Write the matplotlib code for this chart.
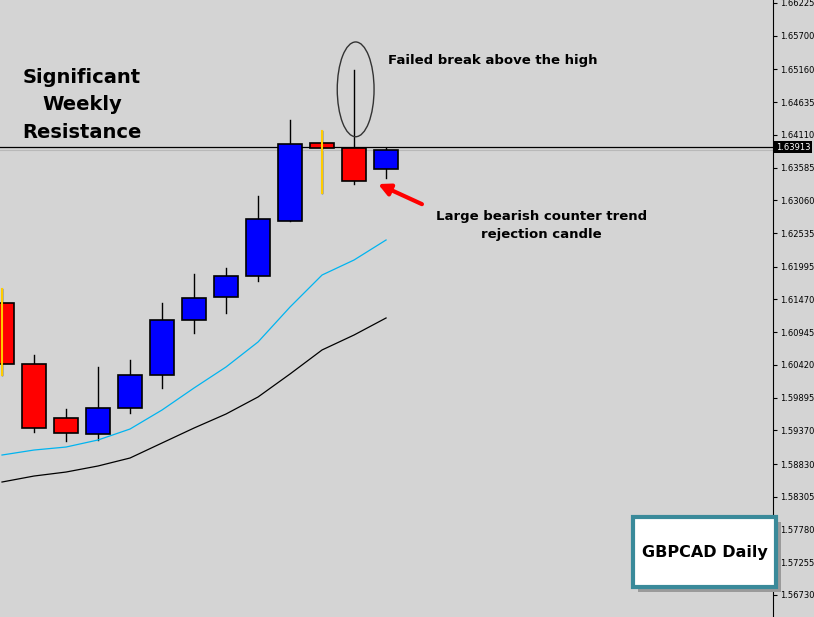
import matplotlib.pyplot as plt
from matplotlib.patches import Rectangle, Ellipse, FancyBboxPatch

# Daily GBPCAD candles (open, high, low, close)
opens = [1.61413, 1.60435, 1.59569, 1.59312, 1.59729, 1.60258, 1.61141, 1.61510, 1.61846, 1.62729, 1.63980, 1.63899, 1.63563]
highs = [1.61638, 1.60579, 1.59713, 1.60387, 1.60499, 1.61413, 1.61878, 1.61975, 1.63129, 1.64348, 1.64172, 1.65150, 1.63899]
lows = [1.60258, 1.59344, 1.59200, 1.59216, 1.59649, 1.60050, 1.60932, 1.61253, 1.61766, 1.62729, 1.63178, 1.63322, 1.63420]
closes = [1.60435, 1.59408, 1.59328, 1.59729, 1.60258, 1.61141, 1.61494, 1.61846, 1.62761, 1.63963, 1.63899, 1.63370, 1.63867]
yellow_wick = [True, False, False, False, False, False, False, False, False, False, True, False, False]
ma_fast = [1.58975, 1.59055, 1.59103, 1.59216, 1.59392, 1.59697, 1.60050, 1.60387, 1.60788, 1.61349, 1.61862, 1.62103, 1.62424]
ma_slow = [1.58542, 1.58638, 1.58702, 1.58799, 1.58927, 1.59168, 1.59408, 1.59633, 1.59906, 1.60275, 1.60660, 1.60900, 1.61173]
price_ticks = [1.66225, 1.65700, 1.65160, 1.64635, 1.64110, 1.63585, 1.63060, 1.62535, 1.61995,
               1.61470, 1.60945, 1.60420, 1.59895, 1.59370, 1.58830, 1.58305, 1.57780, 1.57255, 1.56730]
resistance = 1.63913

bg = "#d4d4d4"
fig = plt.figure(figsize=(8.14, 6.17), dpi=100, facecolor=bg)
ax = fig.add_axes([0, 0, 773 / 814, 1], facecolor=bg)
ax.set_xlim(-0.0625, 24.09)
ax.set_ylim(1.56377, 1.66273)

for i in range(len(opens)):
    o, h, l, c = opens[i], highs[i], lows[i], closes[i]
    ax.plot([i, i], [l, h], color="black", lw=1, zorder=2)
    col = "blue" if c >= o else "red"
    ax.add_patch(Rectangle((i - 0.37, min(o, c)), 0.74, max(abs(c - o), 0.00005),
                           facecolor=col, edgecolor="black", lw=1.2, zorder=3))
    if yellow_wick[i]:
        ax.plot([i, i], [l, h], color="#ffcc00", lw=1.5, zorder=4)

xs = list(range(len(ma_fast)))
ax.plot(xs, ma_fast, color="#00b4f0", lw=0.9)
ax.plot(xs, ma_slow, color="black", lw=0.9)

ax.axhline(resistance, color="black", lw=0.9)
ax.axhline(resistance - 0.0004, color="#b8b8b8", lw=0.8)

ax.add_patch(Ellipse((11.05, 1.6484), 1.15, 0.0152, fill=False, edgecolor="#333333", lw=1, zorder=5))
ax.annotate("", xy=(11.67, 1.6334), xytext=(13.2, 1.6298),
            arrowprops=dict(arrowstyle="-|>,head_length=0.7,head_width=0.35", color="red", lw=3))

ax.text(2.5, 1.6459, "Significant\nWeekly\nResistance", ha="center", va="center",
        fontsize=14, fontweight="bold", linespacing=1.55)
ax.text(12.05, 1.6531, "Failed break above the high", ha="left", va="center", fontsize=9.5, fontweight="bold")
ax.text(16.85, 1.6266, "Large bearish counter trend\nrejection candle", ha="center", va="center",
        fontsize=9.5, fontweight="bold", linespacing=1.45)

box = FancyBboxPatch((633 / 814, 30 / 617), 143 / 814, 70 / 617, boxstyle="square,pad=0",
                     transform=fig.transFigure, facecolor="white", edgecolor="#3a8a9a", lw=3, zorder=10)
shadow = FancyBboxPatch((638 / 814, 25 / 617), 143 / 814, 70 / 617, boxstyle="square,pad=0",
                        transform=fig.transFigure, facecolor="#9a9a9a", edgecolor="none", zorder=9)
fig.patches.extend([shadow, box])
fig.text(705 / 814, 64 / 617, "GBPCAD Daily", ha="center", va="center", fontsize=11.5,
         fontweight="bold", zorder=11)

ax.set_xticks([])
ax.yaxis.tick_right()
ax.set_yticks(price_ticks)
ax.set_yticklabels([f"{t:.5f}" for t in price_ticks], fontsize=6)
ax.tick_params(axis="y", length=3, pad=2)
for side in ["top", "left", "bottom"]:
    ax.spines[side].set_visible(False)
ax.text(1.004, resistance, f"{resistance:.5f}", transform=ax.get_yaxis_transform(), ha="left",
        va="center", fontsize=6, color="white", bbox=dict(facecolor="black", edgecolor="none", pad=1.2), zorder=12)

fig.savefig("out.png", dpi=100, facecolor=bg)
